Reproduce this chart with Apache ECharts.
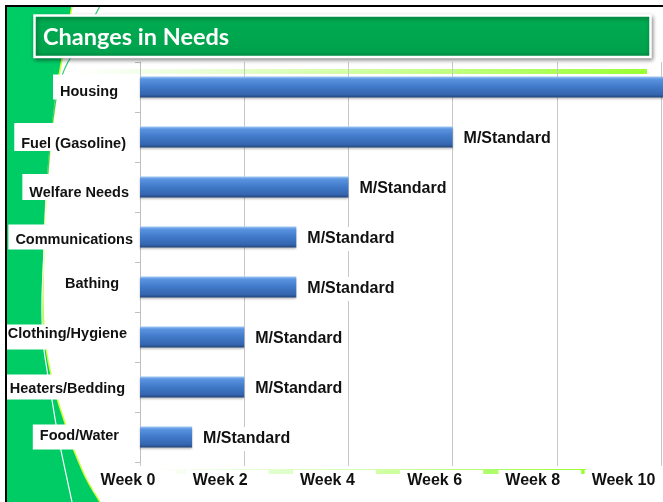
<!DOCTYPE html>
<html><head><meta charset="utf-8">
<script src="https://cdn.jsdelivr.net/npm/echarts@6/dist/echarts.min.js"></script>
<style>html,body{margin:0;padding:0;background:#fff}#c{width:663px;height:502px}</style>
</head><body><div id="c"></div>
<script>
// ---- data ----
const categories = ['Housing', 'Fuel (Gasoline)', 'Welfare Needs', 'Communications', 'Bathing', 'Clothing/Hygiene', 'Heaters/Bedding', 'Food/Water'];
const weeks = [10.5, 6, 4, 3, 3, 2, 2, 1];
const barLabels = ['', 'M/Standard', 'M/Standard', 'M/Standard', 'M/Standard', 'M/Standard', 'M/Standard', 'M/Standard'];
const weekLabels = ['Week 0', 'Week 2', 'Week 4', 'Week 6', 'Week 8', 'Week 10'];
const titleText = 'Changes in Needs';

// ---- styles ----
const catPad = [[10,20,0,7],[13,12,0,7],[11,9,0,7],[8,5,2,7],[2,19,8,7],[2,11,8,7],[7,13,3,7],[4,19,6,7]];
const weekShift = [10, 34, 28, 22, 34, 61];

const catRich = {};
categories.forEach((c, i) => {
  catRich['l' + i] = {fontFamily: 'Liberation Sans', fontWeight: 'bold', fontSize: 14.5, color: '#111',
    backgroundColor: '#fff', padding: catPad[i], lineHeight: 17};
});
const weekRich = {t: {fontFamily: 'Liberation Sans', fontWeight: 'bold', fontSize: 16, color: '#111',
  backgroundColor: '#fff', padding: [3, 21, 3, 7], lineHeight: 18}};
weekShift.forEach((w, i) => { weekRich['s' + i] = {width: w, fontSize: 10, lineHeight: 10}; });

// decoration helpers (not data)
function spline(pts, n) {
  const out = [];
  for (let i = 0; i < pts.length - 1; i++) {
    const p0 = pts[Math.max(0, i - 1)], p1 = pts[i], p2 = pts[i + 1], p3 = pts[Math.min(pts.length - 1, i + 2)];
    for (let k = 0; k < n; k++) {
      const t = k / n, t2 = t * t, t3 = t2 * t;
      const f = (a, b, c, d) => 0.5 * ((2 * b) + (-a + c) * t + (2 * a - 5 * b + 4 * c - d) * t2 + (-a + 3 * b - 3 * c + d) * t3);
      out.push([f(p0[0], p1[0], p2[0], p3[0]), f(p0[1], p1[1], p2[1], p3[1])]);
    }
  }
  out.push(pts[pts.length - 1]);
  return out;
}
const edge = spline([[72,6],[66,40],[60,70],[55,105],[50,150],[46,200],[44,250],[43,300],[45,340],[50,370],[57,398],[64,420],[72,445],[80,465],[88,482],[100,502]], 6);
const stripe = [[7,7]].concat(edge).concat([[7,502]]);
const thinTop = spline([[100,6],[90,25],[80,45],[68,62],[60,82],[55,105],[51,135],[48,170],[46,200]], 6);
const thinBot = spline([[46,200],[44,250],[42,300],[43,340],[47,370],[52,400],[57,430],[63,460],[72,502]], 6);

const chart = echarts.init(document.getElementById('c'), null, {renderer: 'canvas'});
chart.setOption({
  backgroundColor: '#fff',
  animation: false,
  grid: {left: 140, right: 2, top: 62, bottom: 40, containLabel: false, outerBoundsMode: 'none'},
  xAxis: [{
    type: 'value', min: 0, max: 10, interval: 2,
    axisLine: {show: false},
    axisTick: {show: true, length: 4, lineStyle: {color: '#c8c8c8'}},
    splitLine: {show: true, lineStyle: {color: '#c8c8c8', width: 1}},
    axisLabel: {show: false}
  }, {
    type: 'category', data: weekLabels, boundaryGap: false, position: 'bottom',
    axisLine: {show: false}, axisTick: {show: false}, splitLine: {show: false},
    axisLabel: {
      interval: 0, margin: 10, hideOverlap: false,
      formatter: (v, i) => '{t|' + v + '}{s' + i + '| }',
      rich: weekRich
    }
  }],
  yAxis: {
    type: 'category', inverse: true, data: categories,
    axisLine: {show: true, lineStyle: {color: '#bfbfbf'}},
    axisTick: {show: true, length: 5, lineStyle: {color: '#bfbfbf'}},
    axisLabel: {
      interval: 0, margin: 2, hideOverlap: false,
      formatter: (v, i) => '{l' + i + '|' + v + '}',
      rich: catRich
    }
  },
  series: [{
    type: 'bar', barWidth: 21, clip: false, xAxisIndex: 0,
    data: weeks.map((w, i) => ({value: w, label: {show: barLabels[i] !== ''}})),
    itemStyle: {
      color: new echarts.graphic.LinearGradient(0, 0, 0, 1, [
        {offset: 0, color: '#a2c8f6'}, {offset: 0.12, color: '#5b95e0'},
        {offset: 0.5, color: '#4079c8'}, {offset: 0.85, color: '#3566b0'}, {offset: 1, color: '#22467e'}]),
      shadowColor: 'rgba(0,0,0,0.25)', shadowBlur: 2, shadowOffsetY: 1
    },
    label: {
      position: 'right', distance: 7, offset: [0, 2],
      formatter: p => barLabels[p.dataIndex],
      fontFamily: 'Liberation Sans', fontWeight: 'bold', fontSize: 16, color: '#111',
      backgroundColor: '#fff', padding: [4, 4]
    }
  }],
  graphic: {elements: [
    {type: 'polygon', z: -5, shape: {points: stripe}, style: {fill: '#00cc66', stroke: null}},
    {type: 'polyline', z: -4, shape: {points: edge}, style: {stroke: '#ccff33', lineWidth: 1.5, fill: null}},
    {type: 'polyline', z: -4, shape: {points: thinTop}, style: {stroke: '#33cc77', lineWidth: 1.2, fill: null}},
    {type: 'polyline', z: -4, shape: {points: thinBot}, style: {stroke: '#ffffff', lineWidth: 1.2, fill: null}},
    {type: 'rect', z: -4, shape: {x: 75, y: 69, width: 572, height: 5}, style: {
      fill: new echarts.graphic.LinearGradient(0, 0, 1, 0, [
        {offset: 0, color: '#ffffff'}, {offset: 0.15, color: '#f0ffe4'}, {offset: 0.55, color: '#ccff99'}, {offset: 1, color: '#99ff33'}])}},
    {type: 'rect', z: -4, shape: {x: 150, y: 469, width: 436, height: 5}, style: {
      fill: new echarts.graphic.LinearGradient(0, 0, 1, 0, [
        {offset: 0, color: '#ffffff'}, {offset: 0.1, color: '#f2ffea'}, {offset: 0.3, color: '#e0ffcc'},
        {offset: 0.6, color: '#ccff99'}, {offset: 0.8, color: '#aaff66'}, {offset: 1, color: '#99ff33'}])}},
    {type: 'rect', z: 20, shape: {x: 34.5, y: 15.5, width: 616, height: 41.5}, style: {
      fill: new echarts.graphic.LinearGradient(0, 0, 0, 1, [
        {offset: 0, color: '#00ad52'}, {offset: 0.85, color: '#00a24c'}, {offset: 1, color: '#008a40'}]),
      stroke: '#ffffff', lineWidth: 2.5, shadowBlur: 4, shadowColor: 'rgba(0,0,0,0.4)', shadowOffsetX: 1, shadowOffsetY: 2}},
    {type: 'text', z: 21, x: 43, y: 37, style: {text: titleText, fill: '#ffffff', font: 'bold 23.5px Lato', verticalAlign: 'middle', align: 'left'}},
    {type: 'line', z: 30, shape: {x1: 5, y1: 6, x2: 663, y2: 6}, style: {stroke: '#000', lineWidth: 2}},
    {type: 'line', z: 30, shape: {x1: 6, y1: 5, x2: 6, y2: 502}, style: {stroke: '#000', lineWidth: 2}}
  ]}
});
</script></body></html>
